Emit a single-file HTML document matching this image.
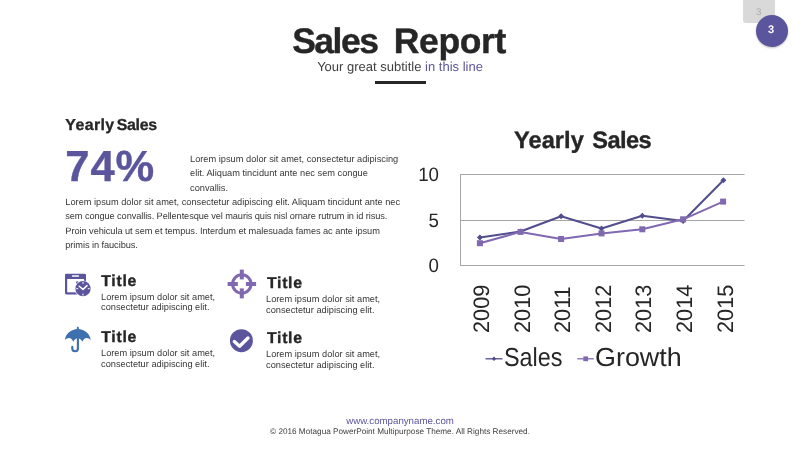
<!DOCTYPE html>
<html><head><meta charset="utf-8">
<style>
*{margin:0;padding:0;box-sizing:border-box}
html,body{width:800px;height:450px;overflow:hidden;background:#fff;font-family:"Liberation Sans",sans-serif;color:#262626;text-rendering:geometricPrecision}
.abs{position:absolute;white-space:nowrap}
#pgbox{left:743px;top:0;width:32px;height:23px;background:#d9d9d9;border-radius:0 0 3px 3px}
#pgnum{left:742.8px;top:6.5px;width:32px;text-align:center;font-size:9.8px;line-height:12px;color:#aaa}
#pgc{left:755.6px;top:15.2px;width:32px;height:32px;border-radius:50%;background:#5a559c;box-shadow:0 1px 2px rgba(0,0,0,.25);color:#fff;font-weight:bold;font-size:11px;text-align:center;line-height:31.5px;text-indent:-1px}
#title{left:-1px;width:800px;text-align:center;top:20.3px;font-size:35.5px;font-weight:bold;line-height:42px;color:#262626;word-spacing:6.5px;-webkit-text-stroke:.4px #262626}
#sub{left:0;width:800px;text-align:center;top:58px;font-size:13px;line-height:18px;color:#404040}
#sub span{color:#5a559c}
#bar{left:375.4px;top:81.4px;width:50.5px;height:2.3px;background:#262626}
#h1{left:65.3px;top:116.3px;font-size:15.9px;font-weight:bold;line-height:20px;word-spacing:-2.2px;-webkit-text-stroke:.3px #262626}
#big{left:65.3px;top:140.6px;font-size:43.5px;font-weight:bold;line-height:52px;color:#5a559c;letter-spacing:.9px;-webkit-text-stroke:.4px #5a559c}
.p{font-size:9.25px;line-height:14.4px;color:#383838}
#p1{left:190px;top:151.8px}
#p2{left:65.3px;top:194.7px}
.t{font-size:15.8px;font-weight:bold;line-height:20px;color:#262626;letter-spacing:.7px;-webkit-text-stroke:.35px #262626}
.d{font-size:9.25px;line-height:10.9px;color:#383838}
#t1{left:101.3px;top:271.6px}#d1{left:101px;top:291.5px}
#t2{left:267px;top:274.2px}#d2{left:266px;top:294px}
#t3{left:101.3px;top:328.4px}#d3{left:101px;top:348.4px}
#t4{left:267px;top:329.2px}#d4{left:266px;top:349px}
#ct{left:429.5px;width:306px;text-align:center;top:127.4px;font-size:23.6px;font-weight:bold;line-height:28px;letter-spacing:-.1px;word-spacing:2px;-webkit-text-stroke:.35px #262626}
.ya{width:40px;left:399px;text-align:right;font-size:19.4px;line-height:20px;color:#262626;transform:scaleX(.965);transform-origin:100% 50%}
.xa{font-size:22.4px;line-height:24px;color:#262626;transform-origin:0 0;transform:rotate(-90deg) scale(.97,1)}
.lg{font-size:26px;line-height:28px;color:#262626;transform-origin:0 0;transform:scale(.9,1)}
#foot1{left:0;width:800px;text-align:center;top:415.6px;font-size:9.7px;line-height:11px;color:#5a559c}
#foot2{left:0;width:800px;text-align:center;top:426.9px;font-size:8.2px;line-height:10px;color:#404040}
svg{position:absolute;left:0;top:0}
</style></head><body><div id="wrap" style="position:absolute;left:0;top:0;width:800px;height:450px;will-change:transform">
<div class="abs" id="pgbox"></div><div class="abs" id="pgnum">3</div><div class="abs" id="pgc">3</div>
<div class="abs" id="title"><span style="letter-spacing:-1.5px">Sales</span> <span style="letter-spacing:-.4px">Report</span></div>
<div class="abs" id="sub">Your great subtitle <span>in this line</span></div>
<div class="abs" id="bar"></div>
<div class="abs" id="h1"><span style="letter-spacing:.4px">Yearly</span> <span style="letter-spacing:-.3px">Sales</span></div>
<div class="abs" id="big">74%</div>
<div class="abs p" id="p1">Lorem ipsum dolor sit amet, consectetur adipiscing<br>elit. Aliquam tincidunt ante nec sem congue<br>convallis.</div>
<div class="abs p" id="p2"><span style="letter-spacing:-.012px">Lorem ipsum dolor sit amet, consectetur adipiscing elit. Aliquam tincidunt ante nec</span><br><span style="letter-spacing:-.105px">sem congue convallis. Pellentesque vel mauris quis nisl ornare rutrum in id risus.</span><br><span style="letter-spacing:-.065px">Proin vehicula ut sem et tempus. Interdum et malesuada fames ac ante ipsum</span><br><span style="letter-spacing:-.08px">primis in faucibus.</span></div>
<div class="abs t" id="t1">Title</div><div class="abs d" id="d1">Lorem ipsum dolor sit amet,<br>consectetur adipiscing elit.</div>
<div class="abs t" id="t2">Title</div><div class="abs d" id="d2">Lorem ipsum dolor sit amet,<br>consectetur adipiscing elit.</div>
<div class="abs t" id="t3">Title</div><div class="abs d" id="d3">Lorem ipsum dolor sit amet,<br>consectetur adipiscing elit.</div>
<div class="abs t" id="t4">Title</div><div class="abs d" id="d4">Lorem ipsum dolor sit amet,<br>consectetur adipiscing elit.</div>
<div class="abs" id="ct"><span style="letter-spacing:.05px">Yearly</span> <span style="letter-spacing:-.6px">Sales</span></div>
<div class="abs ya" id="y10" style="top:164.6px">10</div>
<div class="abs ya" id="y5" style="top:211.4px">5</div>
<div class="abs ya" id="y0" style="top:256.4px">0</div>
<div class="abs xa" id="x0" style="left:470px;top:332.5px">2009</div>
<div class="abs xa" id="x1" style="left:510.6px;top:332.5px">2010</div>
<div class="abs xa" id="x2" style="left:551.2px;top:332.5px">2011</div>
<div class="abs xa" id="x3" style="left:591.8px;top:332.5px">2012</div>
<div class="abs xa" id="x4" style="left:632.4px;top:332.5px">2013</div>
<div class="abs xa" id="x5" style="left:673px;top:332.5px">2014</div>
<div class="abs xa" id="x6" style="left:713.6px;top:332.5px">2015</div>
<div class="abs lg" id="l1" style="left:504px;top:343.3px">Sales</div>
<div class="abs lg" id="l2" style="left:594.5px;top:343px;transform:scale(1.035,1)">Growth</div>
<svg width="800" height="450" viewBox="0 0 800 450">
<!-- icon1: window + clock -->
<g>
<rect x="65" y="273.8" width="21" height="20.6" rx="1.3" fill="#5a559c"/>
<rect x="67.2" y="279" width="16.8" height="13.3" fill="#fff"/>
<rect x="72" y="275.3" width="7" height="1.5" rx=".5" fill="#fff"/>
<circle cx="77.3" cy="282.6" r="1.3" fill="#5a559c"/>
<circle cx="83" cy="288.7" r="8.3" fill="#fff"/>
<circle cx="83" cy="288.7" r="7.6" fill="#5a559c"/>
<path d="M79.2 286.2L83 289.4L87 285.6" fill="none" stroke="#fff" stroke-width="1.5" stroke-linecap="round" stroke-linejoin="round"/>
<path d="M83 282.3v1.2M83 294v1.2M76.6 288.7h1.2M88.2 288.7h1.2" stroke="#fff" stroke-width="1" stroke-linecap="round"/>
</g>
<!-- icon2: crosshair -->
<g fill="#8069b0">
<circle cx="241.8" cy="284" r="9.2" fill="none" stroke="#8069b0" stroke-width="3.1"/>
<rect x="227.6" y="282" width="10.2" height="4"/><rect x="245.9" y="282" width="10.2" height="4"/>
<rect x="239.8" y="269.6" width="4" height="9.8"/><rect x="239.8" y="288.4" width="4" height="10"/>
</g>
<!-- icon3: umbrella -->
<g fill="#3e70b0">
<path d="M77.8 326.8c.6 0 1 .5 1 1v1.3c6.300 .6 11.200 5.200 11.900 10.800c-1.100-1.300-2.600-2-4.200-2c-1.700 0-3.200 1.400-4.200 3.800c-1-2.200-2.600-3.400-4.500-3.400s-3.500 1.200-4.500 3.400c-1-2.400-2.500-3.800-4.200-3.800c-1.600 0-3.100.7-4.200 2c.7-5.600 5.600-10.200 11.900-10.800v-1.300c0-.5.400-1 1-1z"/>
<path d="M77.900 338.300V348.500a2.800 2.800 0 0 1-5.600 0v-1.600" fill="none" stroke="#3e70b0" stroke-width="2.100" stroke-linecap="round"/>
</g>
<!-- icon4: check circle -->
<circle cx="241.400" cy="340.700" r="11.500" fill="#5a559c"/>
<path d="M234.300 341.500L239.600 346.200L248 338" fill="none" stroke="#fff" stroke-width="3.300" stroke-linecap="round" stroke-linejoin="round"/>
<!-- chart -->
<g stroke="#a6a6a6" stroke-width="1" fill="none">
<path d="M460 174.5H744.5M460 220.5H744.5M460 265.5H744.5M460.5 174V266"/>
</g>
<polyline fill="none" stroke="#524d8d" stroke-width="2" stroke-linejoin="round" points="479.9,237.6 520.5,231.5 561.1,216.3 601.5,228.5 642.3,215.8 683.1,221 723.4,180.2"/>
<g fill="#524d8d">
<path d="M479.9 234.6l3 3-3 3-3-3zM520.5 228.5l3 3-3 3-3-3zM561.1 213.3l3 3-3 3-3-3zM601.5 225.5l3 3-3 3-3-3zM642.3 212.8l3 3-3 3-3-3zM683.1 218l3 3-3 3-3-3zM723.4 177.2l3 3-3 3-3-3z"/>
</g>
<polyline fill="none" stroke="#8069b0" stroke-width="2" stroke-linejoin="round" points="479.9,243.2 520.5,231.9 561.1,239 601.5,233.4 642.3,229.3 683.1,219.3 723.1,201.6"/>
<g fill="#8069b0">
<rect x="476.9" y="240.2" width="6" height="6"/><rect x="517.5" y="228.9" width="6" height="6"/><rect x="558.1" y="236" width="6" height="6"/><rect x="598.5" y="230.4" width="6" height="6"/><rect x="639.3" y="226.3" width="6" height="6"/><rect x="680.1" y="216.3" width="6" height="6"/><rect x="720.1" y="198.6" width="6" height="6"/>
</g>
<!-- legend markers -->
<path d="M485.5 358.8H502.5" stroke="#524d8d" stroke-width="1.3"/><path d="M494 356.6l2.2 2.2-2.2 2.2-2.2-2.2z" fill="#524d8d"/>
<path d="M577.3 358.8H593.8" stroke="#8069b0" stroke-width="1.3"/><rect x="583.3" y="356.4" width="4.8" height="4.8" fill="#8069b0"/>
</svg>
<div class="abs" id="foot1">www.companyname.com</div>
<div class="abs" id="foot2">© 2016 Motagua PowerPoint Multipurpose Theme. All Rights Reserved.</div>
</div></body></html>
